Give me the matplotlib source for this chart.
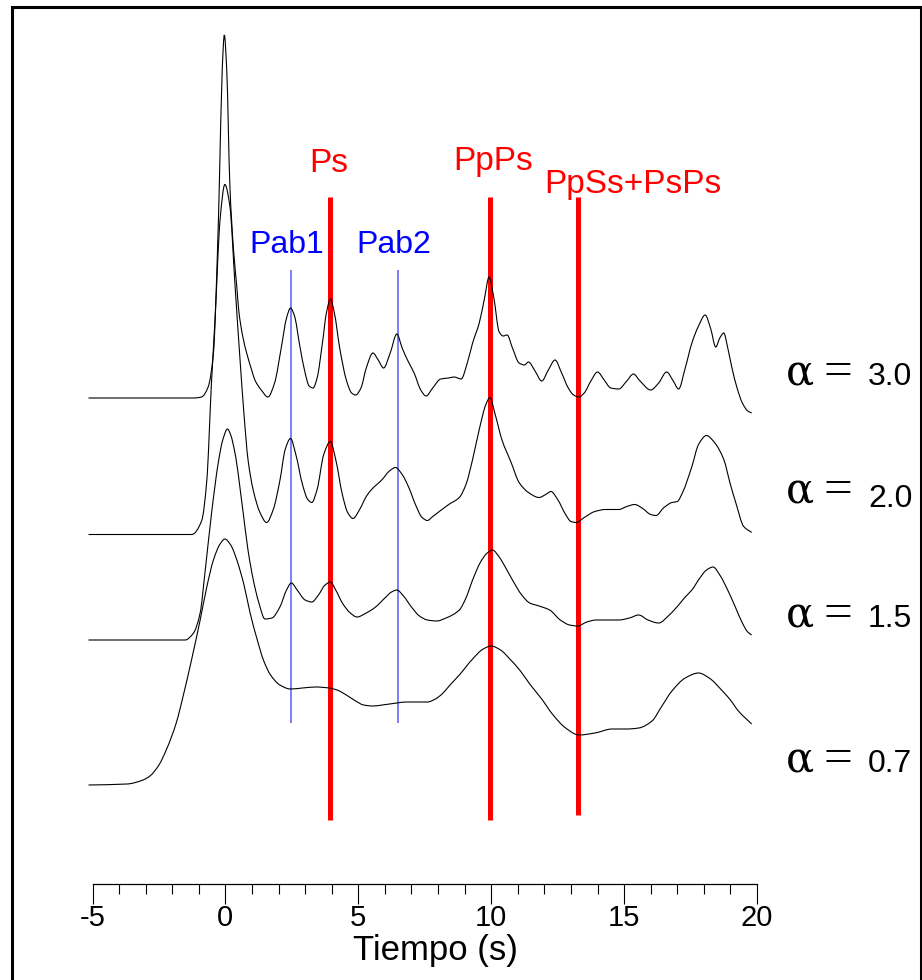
import matplotlib
matplotlib.use("Agg")
import matplotlib.pyplot as plt
import numpy as np
from matplotlib.patches import Rectangle, PathPatch
from matplotlib.path import Path
from matplotlib.ticker import MultipleLocator

plt.rcParams["font.family"] = ["Liberation Sans", "DejaVu Sans"]

# receiver functions (time in s, amplitude in arbitrary units above each baseline)
t_a30 = [-5.15, -1.2, -0.9, -0.65, -0.45, -0.3, -0.23, -0.12, -0.04, 0.05, 0.17, 0.3, 0.43, 0.5,
         0.65, 0.8, 1.0, 1.11, 1.35, 1.6, 1.85, 2.1, 2.3, 2.45, 2.6, 2.8, 3.0, 3.15, 3.3, 3.45,
         3.65, 3.8, 3.95, 4.1, 4.3, 4.55, 4.75, 4.9, 5.1, 5.3, 5.55, 5.75, 5.95, 6.2, 6.45, 6.65,
         6.85, 7.1, 7.35, 7.55, 7.8, 8.1, 8.4, 8.6, 8.87, 9.1, 9.3, 9.55, 9.75, 9.92, 10.1, 10.3,
         10.45, 10.6, 10.8, 11.05, 11.25, 11.4, 11.65, 11.9, 12.15, 12.4, 12.65, 12.9, 13.1, 13.3,
         13.5, 13.75, 14.0, 14.25, 14.5, 14.8, 15.1, 15.35, 15.6, 16.0, 16.3, 16.6, 16.85, 17.05,
         17.3, 17.55, 17.8, 18.05, 18.25, 18.45, 18.6, 18.75, 18.9, 19.05, 19.25, 19.45, 19.65, 19.8]
amp_a30 = [0.0, 0.0, 0.01, 0.11, 0.45, 1.45, 2.11, 3.28, 3.63, 3.28, 2.11, 1.5, 1.11, 0.88,
           0.62, 0.45, 0.27, 0.18, 0.08, 0.01, 0.15, 0.5, 0.8, 0.9, 0.82, 0.52, 0.25, 0.12, 0.1, 0.2,
           0.55, 0.85, 0.99, 0.85, 0.5, 0.18, 0.05, 0.03, 0.1, 0.3, 0.45, 0.38, 0.3, 0.45, 0.64, 0.5,
           0.38, 0.25, 0.08, 0.02, 0.1, 0.19, 0.2, 0.21, 0.19, 0.35, 0.55, 0.75, 1.0, 1.21, 1.0, 0.66,
           0.62, 0.63, 0.5, 0.35, 0.33, 0.36, 0.27, 0.17, 0.28, 0.38, 0.25, 0.1, 0.03, 0.01,
           0.05, 0.17, 0.26, 0.18, 0.1, 0.09, 0.17, 0.24, 0.17, 0.08, 0.15, 0.26, 0.17, 0.09,
           0.3, 0.55, 0.72, 0.83, 0.7, 0.51, 0.6, 0.65, 0.5, 0.31, 0.1, -0.05, -0.13, -0.15]

t_a20 = [-5.15, -1.27, -0.89, -0.7, -0.52, -0.39, -0.2, -0.02, 0.17, 0.36, 0.55, 0.7, 0.85, 1.05,
         1.3, 1.55, 1.8, 2.05, 2.25, 2.45, 2.65, 2.9, 3.1, 3.25, 3.45, 3.7, 3.95, 4.15, 4.4, 4.6,
         4.8, 5.05, 5.3, 5.5, 5.9, 6.15, 6.4, 6.65, 6.9, 7.15, 7.4, 7.6, 7.8, 8.05, 8.4, 8.8, 9.05,
         9.3, 9.55, 9.8, 9.95, 10.15, 10.4, 10.75, 11.05, 11.4, 11.8, 12.05, 12.25, 12.5, 12.8,
         13.0, 13.2, 13.5, 13.9, 14.3, 14.8, 15.1, 15.4, 15.7, 16.0, 16.2, 16.5, 16.8, 17.0, 17.2,
         17.55, 17.8, 18.1, 18.4, 18.75, 19.0, 19.2, 19.5, 19.8]
amp_a20 = [0.0, 0.0, 0.14, 0.54, 1.54, 2.15, 3.15, 3.5, 3.28, 2.5, 1.75, 1.2, 0.75, 0.44,
           0.22, 0.12, 0.25, 0.54, 0.85, 0.96, 0.8, 0.5, 0.35, 0.32, 0.45, 0.8, 0.93, 0.75, 0.4, 0.22,
           0.16, 0.25, 0.38, 0.45, 0.55, 0.63, 0.67, 0.6, 0.47, 0.3, 0.17, 0.14, 0.18, 0.23, 0.3, 0.37, 0.5,
           0.75, 1.05, 1.3, 1.37, 1.2, 0.95, 0.72, 0.52, 0.42, 0.37, 0.4, 0.43, 0.35, 0.2,
           0.13, 0.12, 0.17, 0.23, 0.25, 0.25, 0.28, 0.3, 0.26, 0.2, 0.19, 0.27, 0.32, 0.33, 0.42,
           0.68, 0.9, 0.99, 0.92, 0.75, 0.5, 0.32, 0.08, 0.02]

t_a15 = [-5.15, -1.52, -1.2, -0.95, -0.77, -0.52, -0.27, -0.1, 0.08, 0.2, 0.36, 0.67, 0.85, 1.05,
         1.25, 1.49, 1.75, 2.05, 2.3, 2.48, 2.7, 3.0, 3.25, 3.5, 3.75, 3.95, 4.15, 4.4, 4.7, 4.95,
         5.3, 5.65, 6.0, 6.25, 6.45, 6.7, 7.0, 7.3, 7.6, 7.95, 8.3, 8.8, 9.05, 9.3, 9.6, 9.85, 10.05,
         10.3, 10.55, 10.8, 11.15, 11.45, 11.8, 12.2, 12.6, 12.95, 13.25, 13.6, 13.95, 14.4, 14.8,
         15.2, 15.55, 15.9, 16.3, 16.7, 17.05, 17.3, 17.55, 17.85, 18.1, 18.35, 18.6, 18.95, 19.2,
         19.45, 19.65, 19.8]
amp_a15 = [0.0, 0.0, 0.07, 0.27, 0.67, 1.27, 1.77, 2.0, 2.11, 2.05, 1.87, 1.27, 0.9, 0.6,
           0.38, 0.21, 0.22, 0.33, 0.5, 0.57, 0.5, 0.4, 0.38, 0.45, 0.55, 0.58, 0.5, 0.37, 0.27, 0.23,
           0.27, 0.33, 0.42, 0.48, 0.5, 0.44, 0.33, 0.24, 0.2, 0.19, 0.22, 0.3, 0.42, 0.6, 0.78, 0.87, 0.9,
           0.83, 0.72, 0.6, 0.45, 0.37, 0.34, 0.3, 0.2, 0.15, 0.14, 0.18, 0.2, 0.2, 0.2,
           0.22, 0.25, 0.2, 0.17, 0.25, 0.35, 0.43, 0.5, 0.62, 0.7, 0.73, 0.65, 0.47, 0.32,
           0.17, 0.08, 0.05]

t_a07 = [-5.15, -3.7, -3.1, -2.84, -2.5, -2.21, -1.85, -1.58, -1.25, -0.95, -0.7, -0.45, -0.2,
         -0.02, 0.2, 0.43, 0.7, 0.93, 1.2, 1.43, 1.7, 2.05, 2.45, 2.9, 3.4, 3.9, 4.2, 4.55, 4.9,
         5.2, 5.55, 5.9, 6.45, 6.8, 7.2, 7.6, 7.9, 8.15, 8.45, 8.8, 9.3, 9.7, 10.0, 10.35, 10.7,
         11.1, 11.45, 11.9, 12.3, 12.8, 13.3, 13.9, 14.55, 15.1, 15.55, 16.05, 16.4, 16.8, 17.3,
         17.8, 18.2, 18.7, 19.0, 19.3, 19.6, 19.8]
amp_a07 = [0.0, 0.01, 0.05, 0.09, 0.2, 0.36, 0.62, 0.9, 1.28, 1.65, 1.98, 2.25, 2.41,
           2.46, 2.4, 2.25, 2.0, 1.72, 1.45, 1.25, 1.1, 1.0, 0.96, 0.97, 0.98, 0.97, 0.95, 0.9, 0.84,
           0.8, 0.79, 0.8, 0.82, 0.83, 0.83, 0.83, 0.86, 0.91, 1.0, 1.1, 1.26, 1.36, 1.39, 1.35, 1.26,
           1.14, 1.01, 0.86, 0.71, 0.57, 0.5, 0.52, 0.56, 0.56, 0.57, 0.64, 0.78, 0.94, 1.07,
           1.12, 1.07, 0.94, 0.85, 0.74, 0.66, 0.61]

alphas = ["3.0", "2.0", "1.5", "0.7"]
baselines = [4.855, 3.49, 2.435, 0.985]

phase_names = ["Ps", "PpPs", "PpSs+PsPs"]
phase_times = [3.93, 9.95, 13.26]
layer_names = ["Pab1", "Pab2"]
layer_times = [2.46, 6.48]


def smooth_path(x, y):
    # monotone cubic (pchip-style) bezier through the read points
    x = np.asarray(x, float)
    y = np.asarray(y, float)
    h = np.diff(x)
    d = np.diff(y) / h
    m = np.zeros_like(x)
    m[0], m[-1] = d[0], d[-1]
    for k in range(1, len(x) - 1):
        if d[k - 1] * d[k] > 0:
            w1 = 2 * h[k] + h[k - 1]
            w2 = h[k] + 2 * h[k - 1]
            m[k] = (w1 + w2) / (w1 / d[k - 1] + w2 / d[k])
    verts = [(x[0], y[0])]
    codes = [Path.MOVETO]
    for k in range(len(h)):
        verts += [(x[k] + h[k] / 3, y[k] + m[k] * h[k] / 3),
                  (x[k + 1] - h[k] / 3, y[k + 1] - m[k + 1] * h[k] / 3),
                  (x[k + 1], y[k + 1])]
        codes += [Path.CURVE4] * 3
    return Path(verts, codes)


fig = plt.figure(figsize=(9.22, 9.8), dpi=100)
ax = fig.add_axes([92.5 / 922, 96.5 / 980, 664.5 / 922, 863.5 / 980])
ax.set_xlim(-5, 20)
ax.set_ylim(0, 8.635)

# frame round the page
fig.patches.append(Rectangle((12 / 922, -0.05), 908.5 / 922, 1.05 - 7 / 980, transform=fig.transFigure,
                             fill=False, edgecolor="black", linewidth=2.2, clip_on=False))

# phase markers
ps_bottoms = [0.635, 0.635, 0.685]
for name, t, yb in zip(phase_names, phase_times, ps_bottoms):
    ax.vlines(t, yb, 6.865, color="red", linewidth=3.6, zorder=1)
ax.text(3.87, 7.115, "Ps", color="red", fontsize=24, ha="center", va="baseline")
ax.text(10.07, 7.135, "PpPs", color="red", fontsize=24, ha="center", va="baseline")
ax.text(15.33, 6.91, "PpSs+PsPs", color="red", fontsize=24, ha="center", va="baseline", clip_on=False)

for name, t in zip(layer_names, layer_times):
    ax.vlines(t, 1.605, 6.135, color="#5a5aff", linewidth=1.1, zorder=1)
    ax.text(t - 0.15, 6.305, name, color="blue", fontsize=23, ha="center", va="baseline")

traces = [(t_a30, amp_a30), (t_a20, amp_a20), (t_a15, amp_a15), (t_a07, amp_a07)]
for (tt, aa), base in zip(traces, baselines):
    path = smooth_path(tt, [base + a for a in aa])
    ax.add_patch(PathPatch(path, fill=False, edgecolor="black", linewidth=0.8, zorder=3, clip_on=False))

# alpha labels
for lab, base in zip(alphas, baselines):
    yb = base + 0.13
    yn = yb
    if lab == "2.0":
        yb = base + 0.315
        yn = base + 0.275
    ax.text(21.09, yb, "α", fontsize=30, family=["DejaVu Serif"], ha="left", va="baseline", clip_on=False)
    ax.text(22.5, yb, "=", fontsize=37, family=["Liberation Serif"], ha="left", va="baseline", clip_on=False)
    ax.text(24.18, yn, lab, fontsize=23, ha="left", va="baseline", clip_on=False)

for s in ["left", "right", "top"]:
    ax.spines[s].set_visible(False)
ax.spines["bottom"].set_linewidth(0.9)
ax.set_yticks([])
ax.xaxis.set_minor_locator(MultipleLocator(1))
ax.tick_params(axis="x", which="major", direction="out", length=14.4, width=0.8, labelsize=21, pad=0)
ax.tick_params(axis="x", which="minor", direction="out", length=7.5, width=0.8)
ax.set_xticks([-5, 0, 5, 10, 15, 20])
ax.set_xticklabels(["-5", "0", "5", "10", "15", "20"])
ax.set_xlabel("Tiempo (s)", fontsize=25)
ax.xaxis.set_label_coords((435.5 - 92.5) / 664.5, -0.059)

fig.savefig("out.png", dpi=100, facecolor="white")
